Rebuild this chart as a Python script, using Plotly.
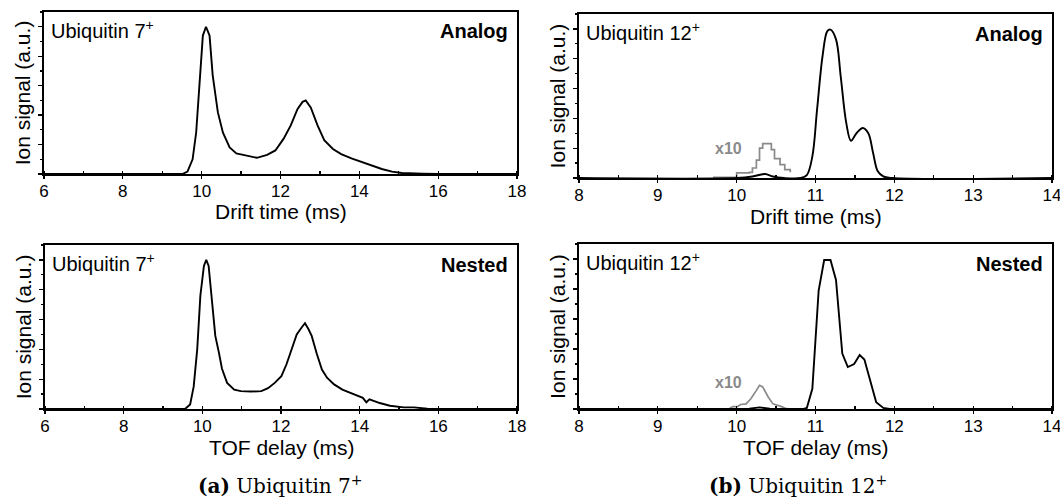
import plotly.graph_objects as go

# ---------------- data ----------------
# Panel (a) top: Ubiquitin 7+, analog
a_analog_x = [6.0, 9.0, 9.51, 9.64, 9.77, 9.86, 9.94, 10.03, 10.11, 10.2, 10.28, 10.41, 10.54, 10.71,
              10.88, 11.14, 11.4, 11.66, 11.87, 12.08, 12.26, 12.43, 12.56, 12.64, 12.77, 12.94,
              13.11, 13.33, 13.54, 13.8, 14.06, 14.31, 14.57, 14.83, 15.08, 15.6, 16.0, 18.0]
a_analog_y = [0.0, 0.0, 0.0, 0.016, 0.10, 0.28, 0.62, 0.94, 1.0, 0.94, 0.67, 0.42, 0.28, 0.18,
              0.14, 0.125, 0.11, 0.13, 0.16, 0.24, 0.33, 0.44, 0.49, 0.50, 0.45, 0.33,
              0.23, 0.17, 0.135, 0.106, 0.08, 0.057, 0.034, 0.016, 0.007, 0.002, 0.0, 0.0]

# Panel (a) bottom: Ubiquitin 7+, nested
a_nested_x = [6.0, 9.0, 9.56, 9.69, 9.78, 9.87, 9.95, 10.04, 10.1, 10.16, 10.25, 10.33, 10.42, 10.5,
              10.63, 10.81, 10.98, 11.24, 11.5, 11.67, 11.84, 12.01, 12.14, 12.27, 12.4, 12.52,
              12.61, 12.7, 12.78, 12.91, 13.04, 13.17, 13.35, 13.56, 13.82, 14.08, 14.17, 14.25,
              14.51, 14.77, 15.12, 15.38, 15.72, 16.0, 18.0]
a_nested_y = [0.0, 0.0, 0.0, 0.03, 0.15, 0.40, 0.76, 0.96, 1.0, 0.96, 0.71, 0.49, 0.38, 0.27,
              0.175, 0.13, 0.12, 0.117, 0.12, 0.14, 0.175, 0.22, 0.30, 0.40, 0.50, 0.545,
              0.575, 0.535, 0.49, 0.37, 0.265, 0.21, 0.165, 0.13, 0.10, 0.075, 0.045, 0.065,
              0.04, 0.022, 0.011, 0.011, 0.002, 0.0, 0.0]

# Panel (b) top: Ubiquitin 12+, analog
b_analog_x = [8.0, 10.0, 10.2, 10.36, 10.46, 10.6, 10.81, 10.89, 10.96, 11.02, 11.09, 11.15, 11.19,
              11.26, 11.32, 11.39, 11.45, 11.52, 11.6, 11.67, 11.73, 11.79, 11.86, 11.97, 14.0]
b_analog_y = [0.0, 0.0, 0.01, 0.027, 0.01, 0.0, 0.0, 0.02, 0.145, 0.46, 0.82, 0.985, 0.995,
              0.93, 0.68, 0.37, 0.25, 0.30, 0.335, 0.30, 0.17, 0.045, 0.011, 0.0, 0.0]
b_analog_x10_x = [9.7, 10.0, 10.16, 10.2, 10.25, 10.29, 10.33, 10.4, 10.44, 10.48, 10.55, 10.61, 10.68]
b_analog_x10_y = [0.004, 0.034, 0.038, 0.067, 0.12, 0.20, 0.23, 0.23, 0.19, 0.13, 0.09, 0.056, 0.038]

# Panel (b) bottom: Ubiquitin 12+, nested
b_nested_x = [8.0, 10.0, 10.16, 10.29, 10.42, 10.6, 10.85, 10.89, 10.96, 11.04, 11.11, 11.19, 11.26,
              11.34, 11.41, 11.49, 11.56, 11.62, 11.69, 11.77, 11.86, 11.94, 14.0]
b_nested_y = [0.0, 0.0, 0.002, 0.011, 0.002, 0.0, 0.0, 0.007, 0.135, 0.79, 0.993, 0.993, 0.86,
              0.37, 0.28, 0.30, 0.36, 0.33, 0.20, 0.045, 0.007, 0.0, 0.0]
b_nested_x10_x = [9.9, 9.95, 10.01, 10.05, 10.12, 10.18, 10.25, 10.29, 10.33, 10.4, 10.46, 10.53, 10.57, 10.63, 10.7]
b_nested_x10_y = [0.0, 0.016, 0.016, 0.03, 0.034, 0.068, 0.124, 0.158, 0.147, 0.08, 0.034, 0.023, 0.016, 0.002, 0.0]

species = ["Ubiquitin 7<sup>+</sup>", "Ubiquitin 12<sup>+</sup>"]
modes = ["Analog", "Nested"]
xtitles = ["Drift time (ms)", "TOF delay (ms)"]
captions = ["<b>(a)</b> Ubiquitin 7<sup>+</sup>", "<b>(b)</b> Ubiquitin 12<sup>+</sup>"]

# ---------------- figure ----------------
W, H = 1060, 504
FONT = "Liberation Sans, Arial, sans-serif"
GRAY = "#8a8a8a"

fig = go.Figure()

def line(x, y, ax, color="black", width=1.9, shape="linear"):
    fig.add_trace(go.Scatter(x=x, y=y, mode="lines", xaxis="x" + ax, yaxis="y" + ax,
                             line=dict(color=color, width=width, shape=shape),
                             showlegend=False, hoverinfo="skip"))

line(a_analog_x, a_analog_y, "")
line(b_analog_x10_x, b_analog_x10_y, "2", color=GRAY, width=1.7, shape="hv")
line(b_analog_x, b_analog_y, "2", shape="spline")
line(a_nested_x, a_nested_y, "3")
line(b_nested_x10_x, b_nested_x10_y, "4", color=GRAY, width=1.7)
line(b_nested_x, b_nested_y, "4")

def px2dom(a, b, total, flip=False):
    if flip:
        return [1 - b / total, 1 - a / total]
    return [a / total, b / total]

boxes = {
    "": (44, 517, 12, 174),
    "2": (579, 1052, 14, 178),
    "3": (45, 517, 245, 409),
    "4": (579, 1052, 244, 409),
}
xranges = {"": [6, 18], "2": [8, 14], "3": [6, 18], "4": [8, 14]}
xdticks = {"": 2, "2": 1, "3": 2, "4": 1}
xt = {"": xtitles[0], "2": xtitles[0], "3": xtitles[1], "4": xtitles[1]}

layout = dict(width=W, height=H, autosize=False, margin=dict(l=0, r=0, t=0, b=0, pad=0),
              paper_bgcolor="white", plot_bgcolor="white",
              font=dict(family=FONT, color="black"), showlegend=False)

annotations = []
for ax, (x0, x1, y0, y1) in boxes.items():
    xa = "xaxis" + ax
    ya = "yaxis" + ax
    layout[xa] = dict(domain=px2dom(x0, x1, W), anchor="y" + ax, range=xranges[ax],
                      automargin=False, ticklabeloverflow="allow",
                      dtick=xdticks[ax], tick0=0, showline=True, mirror=True,
                      linecolor="black", linewidth=1.6, ticks="outside", ticklen=3,
                      tickwidth=1.3, tickcolor="black", showgrid=False, zeroline=False,
                      tickfont=dict(size=17, family=FONT), ticklabelstandoff=-2,
                      minor=dict(dtick=xdticks[ax] / 2, ticks="inside", ticklen=3,
                                 tickwidth=1.2, tickcolor="black", showgrid=False))
    layout[ya] = dict(domain=px2dom(y0, y1, H, flip=True), anchor="x" + ax, range=[0, 1.1],
                      automargin=False,
                      dtick=0.2, tick0=0, showline=True, mirror=True, linecolor="black",
                      linewidth=1.6, ticks="outside", ticklen=4, tickwidth=1.3,
                      tickcolor="black", showticklabels=False, showgrid=False, zeroline=False,
                      minor=dict(dtick=0.1, ticks="outside", ticklen=2, tickwidth=1.2,
                                 tickcolor="black", showgrid=False),
                      title=dict(text="Ion signal (a.u.)", font=dict(size=21, family=FONT),
                                 standoff=2))
    # x-axis title as annotation (precise placement)
    xr = "x" + ax + " domain" if ax else "x domain"
    yr = "y" + ax + " domain" if ax else "y domain"
    annotations.append(dict(text=xt[ax], xref=xr, yref=yr, x=0.5, y=-38 / (y1 - y0),
                            xanchor="center", yanchor="middle", showarrow=False,
                            font=dict(size=21, family=FONT)))

panel_species = {"": 0, "2": 1, "3": 0, "4": 1}
panel_mode = {"": 0, "2": 0, "3": 1, "4": 1}
for ax in boxes:
    xr = "x" + ax + " domain" if ax else "x domain"
    yr = "y" + ax + " domain" if ax else "y domain"
    annotations.append(dict(text=species[panel_species[ax]], xref=xr, yref=yr, x=0.01, y=0.895,
                            xanchor="left", yanchor="middle", showarrow=False,
                            font=dict(size=20, family=FONT)))
    annotations.append(dict(text="<b>" + modes[panel_mode[ax]] + "</b>", xref=xr, yref=yr,
                            x=0.985, y=0.88, xanchor="right", yanchor="middle", showarrow=False,
                            font=dict(size=20, family=FONT)))

annotations.append(dict(text="<b>x10</b>", xref="x2", yref="y2", x=9.89, y=0.195,
                        xanchor="center", yanchor="middle", showarrow=False,
                        font=dict(size=16, family=FONT, color=GRAY)))
annotations.append(dict(text="<b>x10</b>", xref="x4", yref="y4", x=9.89, y=0.176,
                        xanchor="center", yanchor="middle", showarrow=False,
                        font=dict(size=16, family=FONT, color=GRAY)))

for cx, cap in zip([280, 798], captions):
    annotations.append(dict(text=cap, xref="paper", yref="paper", x=cx / W, y=1 - 485 / H,
                            xanchor="center", yanchor="middle", showarrow=False,
                            font=dict(size=20, family="DejaVu Serif, serif")))

layout["annotations"] = annotations
fig.update_layout(**layout)
fig.write_html("out.html", config={"displayModeBar": False, "staticPlot": True},
               post_script="document.body.style.margin='0';")
